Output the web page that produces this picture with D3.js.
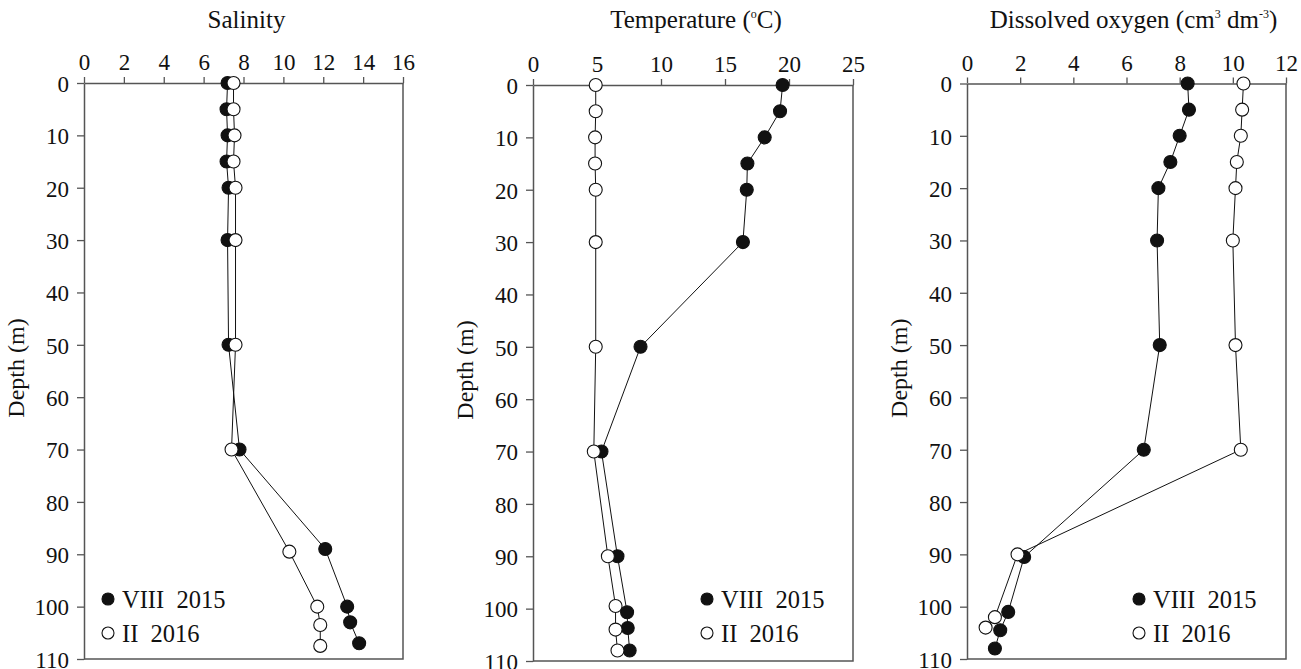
<!DOCTYPE html>
<html>
<head>
<meta charset="utf-8">
<script src="https://cdn.jsdelivr.net/npm/d3@7"></script>
<style>
  body { margin: 0; background: #fff; }
  svg { font-family: "Liberation Serif", "Times New Roman", serif; }
</style>
</head>
<body>
<div id="chart"></div>
<script>
// depth ticks shared by all panels
const depthTicks = [0, 10, 20, 30, 40, 50, 60, 70, 80, 90, 100, 110];
const seriesNames = ["VIII  2015", "II  2016"];

// salinity
const salTicks = [0, 2, 4, 6, 8, 10, 12, 14, 16];
const salDepthVIII = [0, 5, 10, 15, 20, 30, 50, 70, 89, 100, 103, 107];
const salVIII = [7.2, 7.15, 7.2, 7.15, 7.25, 7.2, 7.25, 7.8, 12.1, 13.2, 13.35, 13.8];
const salDepthII = [0, 5, 10, 15, 20, 30, 50, 70, 89.5, 100, 103.5, 107.5];
const salII = [7.5, 7.5, 7.55, 7.5, 7.6, 7.6, 7.6, 7.4, 10.3, 11.7, 11.85, 11.85];

// temperature
const tempTicks = [0, 5, 10, 15, 20, 25];
const tempDepthVIII = [0, 5, 10, 15, 20, 30, 50, 70, 90, 100.7, 103.7, 108];
const tempVIII = [19.5, 19.3, 18.1, 16.75, 16.7, 16.4, 8.4, 5.35, 6.6, 7.35, 7.4, 7.55];
const tempDepthII = [0, 5, 10, 15, 20, 30, 50, 70, 90, 99.5, 104, 108];
const tempII = [4.9, 4.9, 4.85, 4.85, 4.9, 4.9, 4.9, 4.75, 5.85, 6.45, 6.45, 6.6];

// dissolved oxygen
const oxyTicks = [0, 2, 4, 6, 8, 10, 12];
const oxyDepthVIII = [0, 5, 10, 15, 20, 30, 50, 70, 90.5, 101, 104.5, 108];
const oxyVIII = [8.3, 8.35, 8.0, 7.65, 7.2, 7.15, 7.25, 6.65, 2.15, 1.55, 1.25, 1.05];
const oxyDepthII = [0, 5, 10, 15, 20, 30, 50, 70, 90, 102, 104];
const oxyII = [10.4, 10.35, 10.3, 10.15, 10.1, 10.0, 10.1, 10.3, 1.9, 1.05, 0.7];

const width = 1301;
const height = 669;
const axisColor = "#555";

const svg = d3.select("#chart").append("svg")
  .attr("width", width)
  .attr("height", height);

function panel(opt) {
  const x = d3.scaleLinear().domain(opt.xDomain).range([opt.left, opt.right]);
  const y = d3.scaleLinear().domain([0, 110]).range([opt.top, opt.bottom]);
  const g = svg.append("g");

  // top axis
  const top = g.append("g")
    .attr("transform", `translate(0,${opt.top})`)
    .call(d3.axisTop(x).tickValues(opt.xTicks).tickSize(6).tickSizeOuter(0).tickPadding(7));
  // left axis
  const left = g.append("g")
    .attr("transform", `translate(${opt.left},0)`)
    .call(d3.axisLeft(y).tickValues(depthTicks).tickSize(7).tickSizeOuter(0).tickPadding(8));

  [top, left].forEach((a) => {
    a.select(".domain").attr("stroke", axisColor).attr("stroke-width", 1.5);
    a.selectAll(".tick line").attr("stroke", axisColor).attr("stroke-width", 1.3);
    a.selectAll("text")
      .attr("fill", "#111")
      .style("font-size", "23px")
      .style("font-family", "Liberation Serif, serif");
  });
  left.selectAll("text").attr("dy", "0.36em");

  // right + bottom frame
  g.append("path")
    .attr("d", `M${opt.right},${opt.top}V${opt.bottom}H${opt.left}`)
    .attr("fill", "none")
    .attr("stroke", axisColor)
    .attr("stroke-width", 1.5);

  // title
  const title = g.append("text")
    .attr("x", (opt.left + opt.right) / 2 + opt.titleShift)
    .attr("y", 28)
    .attr("text-anchor", "middle")
    .style("font-size", "25px")
    .attr("fill", "#111");
  opt.title(title);

  // y label
  g.append("text")
    .attr("transform", `translate(${opt.left - 60},${(opt.top + opt.bottom) / 2 - 3}) rotate(-90)`)
    .attr("text-anchor", "middle")
    .style("font-size", "24px")
    .attr("fill", "#111")
    .text("Depth (m)");

  const line = d3.line().x((d) => x(d.v)).y((d) => y(d.z));
  const sets = [
    { data: opt.viii.map((v, i) => ({ v: v, z: opt.viiiDepth[i] })), fill: "#111" },
    { data: opt.ii.map((v, i) => ({ v: v, z: opt.iiDepth[i] })), fill: "#fff" },
  ];

  sets.forEach((s) => {
    g.append("path")
      .datum(s.data)
      .attr("fill", "none")
      .attr("stroke", "#111")
      .attr("stroke-width", 1)
      .attr("d", line);
  });
  sets.forEach((s) => {
    g.selectAll(null)
      .data(s.data)
      .join("circle")
      .attr("cx", (d) => x(d.v))
      .attr("cy", (d) => y(d.z))
      .attr("r", 6.5)
      .attr("fill", s.fill)
      .attr("stroke", "#111")
      .attr("stroke-width", 1.1);
  });

  // legend
  const lg = g.append("g").attr("transform", `translate(${opt.left + opt.legendX},599)`);
  seriesNames.forEach((name, i) => {
    lg.append("circle")
      .attr("cx", 0)
      .attr("cy", i * 34)
      .attr("r", 6)
      .attr("fill", i === 0 ? "#111" : "#fff")
      .attr("stroke", "#111")
      .attr("stroke-width", 1.1);
    lg.append("text")
      .attr("x", 14)
      .attr("y", i * 34 + 8.5)
      .style("font-size", "24.5px")
      .style("white-space", "pre")
      .attr("fill", "#111")
      .text(name);
  });
}

panel({
  left: 84, right: 403, top: 83, bottom: 659,
  xDomain: [0, 16], xTicks: salTicks,
  viii: salVIII, viiiDepth: salDepthVIII, ii: salII, iiDepth: salDepthII,
  legendX: 24, titleShift: 3,
  title: (t) => t.text("Salinity"),
});

panel({
  left: 533, right: 853, top: 85, bottom: 661,
  xDomain: [0, 25], xTicks: tempTicks,
  viii: tempVIII, viiiDepth: tempDepthVIII, ii: tempII, iiDepth: tempDepthII,
  legendX: 174, titleShift: 3,
  title: (t) => {
    t.append("tspan").text("Temperature (");
    t.append("tspan").attr("dy", -10).style("font-size", "12px").text("o");
    t.append("tspan").attr("dy", 10).text("C)");
  },
});

panel({
  left: 967, right: 1286, top: 83.5, bottom: 659,
  xDomain: [0, 12], xTicks: oxyTicks,
  viii: oxyVIII, viiiDepth: oxyDepthVIII, ii: oxyII, iiDepth: oxyDepthII,
  legendX: 172, titleShift: 7,
  title: (t) => {
    t.append("tspan").text("Dissolved oxygen (cm");
    t.append("tspan").attr("dy", -10).style("font-size", "12px").text("3");
    t.append("tspan").attr("dy", 10).text(" dm");
    t.append("tspan").attr("dy", -10).style("font-size", "12px").text("-3");
    t.append("tspan").attr("dy", 10).text(")");
  },
});
</script>
</body>
</html>
